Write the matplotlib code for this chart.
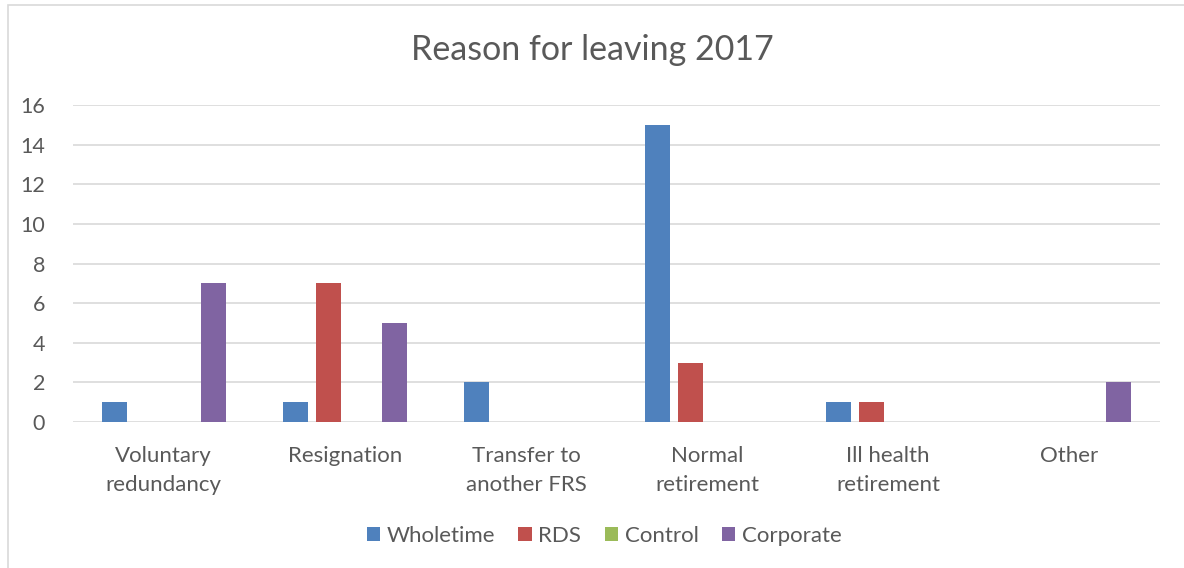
import numpy as np
import matplotlib.pyplot as plt
from matplotlib.patches import Rectangle

plt.rcParams['font.family'] = ['Lato', 'DejaVu Sans']

# Data
categories = ['Voluntary\nredundancy', 'Resignation', 'Transfer to\nanother FRS',
              'Normal\nretirement', 'Ill health\nretirement', 'Other']
wholetime = [1, 1, 2, 15, 1, 0]
rds = [0, 7, 0, 3, 1, 0]
control = [0, 0, 0, 0, 0, 0]
corporate = [7, 5, 0, 0, 0, 2]

series = [('Wholetime', wholetime, '#4F81BD'),
          ('RDS', rds, '#C0504D'),
          ('Control', control, '#9BBB59'),
          ('Corporate', corporate, '#8064A2')]

fig = plt.figure(figsize=(11.84, 5.68), dpi=100)
# outer chart border (light gray)
fig.patches.append(Rectangle((8 / 1184, -0.1), 1.2, 1 - 5 / 568 + 0.1,
                             transform=fig.transFigure, fill=False,
                             edgecolor='#d9d9d9', linewidth=1.2))

ax = fig.add_axes([73 / 1184, 1 - 422 / 568, (1160 - 73) / 1184, (422 - 105) / 568])

x = np.arange(len(categories))
step = 0.182
width = 0.138
for i, (name, vals, col) in enumerate(series):
    ax.bar(x + (i - 1.5) * step, vals, width, color=col, label=name, zorder=3)

ax.set_xlim(-0.5, len(categories) - 0.5)
ax.set_ylim(0, 16)
ax.set_yticks(range(0, 17, 2))
ax.yaxis.grid(True, color='#d9d9d9', linewidth=1.2, zorder=0)
ax.set_axisbelow(True)
for s in ax.spines.values():
    s.set_visible(False)
ax.tick_params(length=0, colors='#595959', labelsize=15.5)
ax.tick_params(axis='y', pad=20)
ax.tick_params(axis='x', pad=17, labelsize=16)
ax.set_xticks(x)
ax.set_xticklabels(categories, linespacing=1.6)

fig.text(0.5, 1 - 50 / 568, 'Reason for leaving 2017', ha='center', va='center',
         fontsize=24.5, color='#595959')

fig.legend(loc='center', bbox_to_anchor=(604 / 1184, 1 - 536 / 568), ncol=4, frameon=False,
           fontsize=16, labelcolor='#595959', handlelength=0.6, handleheight=0.6,
           handletextpad=0.3, columnspacing=1.05)

fig.savefig('out.png', dpi=100)
